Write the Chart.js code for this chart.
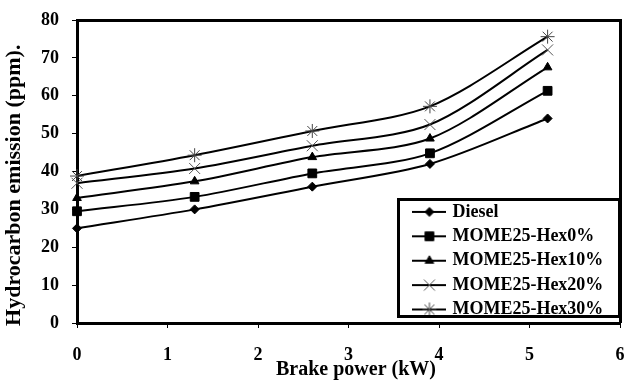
<!DOCTYPE html>
<html>
<head>
<meta charset="utf-8">
<script src="https://cdn.jsdelivr.net/npm/chart.js@4"></script>
<style>
  html, body { margin: 0; padding: 0; background: #fff; }
  #box { width: 625px; height: 380px; }
</style>
</head>
<body>
<div id="box"><canvas id="chart"></canvas></div>
<script>
// brake power (kW) on x
const power = [0, 1.3, 2.6, 3.9, 5.2];

// hydrocarbon emission (ppm) per fuel
const diesel = [25, 30, 36, 42, 54];
const hex0 = [29.5, 33.3, 39.5, 44.8, 61.3];
const hex10 = [33, 37.4, 43.8, 48.7, 67.5];
const hex20 = [36.9, 40.8, 46.8, 52.4, 72.1];
const hex30 = [38.8, 44.3, 50.7, 57.2, 75.6];

const seriesNames = ['Diesel', 'MOME25-Hex0%', 'MOME25-Hex10%', 'MOME25-Hex20%', 'MOME25-Hex30%'];
const seriesValues = [diesel, hex0, hex10, hex20, hex30];

const xTitle = '   Brake power (kW)';
const yTitle = 'Hydrocarbon emission (ppm).     ';

const serif = "'Times New Roman', 'Liberation Serif', serif";

// excel-like markers
const markers = [
  { style: 'rectRot', radius: 4.5, fill: '#000', color: '#000', width: 1 },
  { style: 'rect', radius: 6.2, fill: '#000', color: '#000', width: 1 },
  { style: 'triangle', radius: 5, fill: '#000', color: '#000', width: 1 },
  { style: 'crossRot', radius: 7.8, fill: '#000', color: '#555', width: 1 },
  { style: 'star', radius: 7, fill: '#000', color: '#444', width: 1 }
];

function makeIcon(m) {
  let c = document.createElement('canvas');
  c.width = 34;
  c.height = 16;
  let g = c.getContext('2d');
  g.strokeStyle = '#000';
  g.lineWidth = 2;
  g.beginPath();
  g.moveTo(0, 8);
  g.lineTo(34, 8);
  g.stroke();
  g.fillStyle = m.fill;
  g.strokeStyle = m.color;
  g.lineWidth = m.width;
  Chart.helpers.drawPoint(g, { pointStyle: m.style, radius: m.radius, borderWidth: m.width, rotation: 0 }, 17, 8);
  return c;
}

const icons = markers.map(makeIcon);

// frame around plot + legend box, legend moved to bottom right
const framePlugin = {
  id: 'frame',
  afterUpdate(chart) {
    let lg = chart.legend;
    lg.left = 409;
    lg.top = 196.5;
    lg.right = 625;
    lg.bottom = 380;
    lg.width = lg.right - lg.left;
    lg.height = lg.bottom - lg.top;
    lg.adjustHitBoxes();
  },
  beforeDatasetsDraw(chart) {
    let { ctx, chartArea } = chart;
    ctx.save();
    ctx.strokeStyle = '#000';
    ctx.lineWidth = 3;
    ctx.beginPath();
    ctx.moveTo(chartArea.left, chartArea.top + 0.5);
    ctx.lineTo(chartArea.right + 0.5, chartArea.top + 0.5);
    ctx.lineTo(chartArea.right + 0.5, chartArea.bottom);
    ctx.stroke();
    ctx.restore();
  },
  afterDraw(chart) {
    let ctx = chart.ctx;
    ctx.save();
    ctx.strokeStyle = '#000';
    ctx.lineWidth = 3;
    ctx.strokeRect(398.5, 199.5, 221, 117);
    ctx.restore();
  }
};

let ctx = document.getElementById('chart').getContext('2d');

let myChart = new Chart(ctx, {
  type: 'line',
  data: {
    datasets: seriesValues.map((vals, i) => ({
      label: seriesNames[i],
      data: power.map((x, j) => ({ x: x, y: vals[j] })),
      borderColor: '#000',
      borderWidth: 2,
      tension: 0.3,
      fill: false,
      clip: false,
      pointStyle: markers[i].style,
      pointRadius: markers[i].radius,
      pointBackgroundColor: markers[i].fill,
      pointBorderColor: markers[i].color,
      pointBorderWidth: markers[i].width
    }))
  },
  options: {
    responsive: true,
    maintainAspectRatio: false,
    animation: false,
    layout: { autoPadding: false, padding: { top: 20, right: 0, left: 0, bottom: 0 } },
    plugins: {
      tooltip: { enabled: false },
      legend: {
        position: 'chartArea',
        align: 'start',
        labels: {
          usePointStyle: true,
          pointStyleWidth: 28,
          padding: 6.4,
          color: '#000',
          font: { family: serif, size: 18, weight: 'bold' },
          generateLabels(chart) {
            let items = Chart.defaults.plugins.legend.labels.generateLabels(chart);
            items.forEach((it, i) => { it.pointStyle = icons[i]; });
            return items;
          }
        }
      }
    },
    scales: {
      x: {
        type: 'linear',
        min: 0,
        max: 6,
        ticks: { stepSize: 1, padding: 17, color: '#000', font: { family: serif, size: 18, weight: 'bold' } },
        grid: { drawOnChartArea: false, tickLength: 5, color: '#000' },
        border: { color: '#000', width: 3 },
        title: { display: true, text: xTitle, color: '#000', padding: 0, font: { family: serif, size: 20, weight: 'bold', lineHeight: 1 } },
        afterFit(scale) {
          scale.height = 57;
          scale.paddingLeft = 0;
          scale.paddingRight = 5;
        }
      },
      y: {
        min: 0,
        max: 80,
        ticks: { stepSize: 10, padding: 13, color: '#000', font: { family: serif, size: 18, weight: 'bold' } },
        grid: { drawOnChartArea: false, tickLength: 5, color: '#000' },
        border: { color: '#000', width: 3 },
        title: { display: true, text: yTitle, color: '#000', padding: { top: 3, bottom: 0 }, font: { family: serif, size: 22, weight: 'bold', lineHeight: 1 } },
        afterFit(scale) {
          scale.width = 77;
          scale.paddingTop = 0;
          scale.paddingBottom = 0;
        }
      }
    }
  },
  plugins: [framePlugin]
});
</script>
</body>
</html>
